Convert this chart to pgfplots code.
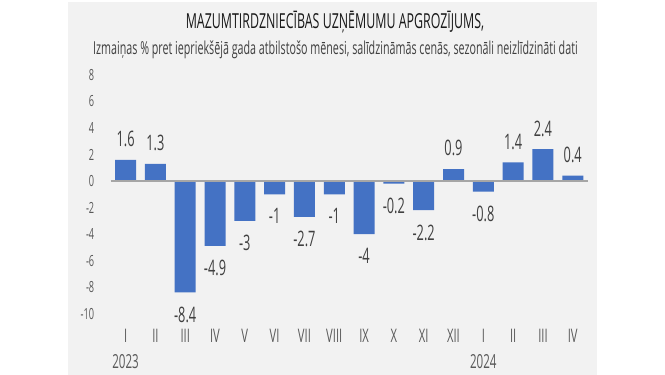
\documentclass[border=0pt]{standalone}
\usepackage{fontspec}
\setmainfont{Open Sans}[FakeStretch=0.6]
\usepackage{pgfplots}
\pgfplotsset{compat=1.18}
\definecolor{panel}{HTML}{F2F2F2}
\definecolor{barblue}{HTML}{4472C4}
\definecolor{txt}{HTML}{404040}
\definecolor{ticktxt}{HTML}{595959}
\definecolor{zero}{HTML}{A6A6A6}
\begin{document}
\begin{tikzpicture}
\fill[white] (0pt,0pt) rectangle (498.75pt,281.25pt);
\fill[panel] (51pt,0pt) rectangle (447.75pt,279.75pt);
\node[anchor=base, text=black!90, inner sep=0pt] at (251.25pt,260pt) {\fontsize{15.5}{18}\selectfont MAZUMTIRDZNIECĪBAS UZŅĒMUMU APGROZĪJUMS,};
\node[anchor=base, text=txt, inner sep=0pt] at (251.6pt,240pt) {\fontsize{13.4}{15}\selectfont Izmaiņas \% pret iepriekšējā gada atbilstošo mēnesi, salīdzināmās cenās, sezonāli neizlīdzināti dati};
\begin{axis}[
  at={(83pt,46.05pt)}, anchor=south west,
  scale only axis, width=357.75pt, height=179pt,
  xmin=-0.5, xmax=15.5, ymin=-10, ymax=8,
  clip=false,
  axis line style={draw=none},
  major tick length=0pt,
  ytick={-10,-8,...,8},
  xtick={0,...,15},
  xticklabels={I,II,III,IV,V,VI,VII,VIII,IX,X,XI,XII,I,II,III,IV},
  /pgf/number format/assume math mode=true,
  yticklabel style={font=\fontsize{11.5}{13}\selectfont, text=ticktxt, anchor=east, xshift=-8.8pt},
  xticklabel style={font=\fontsize{14}{16}\selectfont, text=ticktxt, anchor=base, yshift=-22pt},
]
\addplot[ybar, bar width=15.75pt, fill=barblue, draw=none,
  nodes near coords, nodes near coords align=vertical,
  visualization depends on={rawy \as \ry},
  every node near coord/.append style={font=\fontsize{16}{19}\selectfont, text=txt, inner ysep=9.4pt, yshift={\ry<0 ? -1.2 : 0}},
] coordinates {(0,1.6) (1,1.3) (2,-8.4) (3,-4.9) (4,-3) (5,-1) (6,-2.7) (7,-1) (8,-4) (9,-0.2) (10,-2.2) (11,0.9) (12,-0.8) (13,1.4) (14,2.4) (15,0.4)};
\draw[zero, line width=1.1pt] (axis cs:-0.5,0) -- (axis cs:15.5,0);
\node[anchor=base, text=ticktxt, font=\fontsize{14.5}{17}\selectfont] at ([yshift=-40.95pt]axis cs:0,-10) {2023};
\node[anchor=base, text=ticktxt, font=\fontsize{14.5}{17}\selectfont] at ([yshift=-40.95pt]axis cs:12,-10) {2024};
\end{axis}
\end{tikzpicture}
\end{document}
